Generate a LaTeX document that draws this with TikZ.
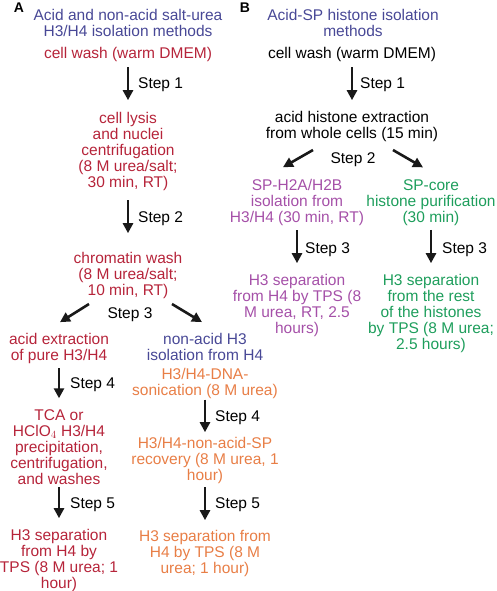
\documentclass[tikz,border=0pt]{standalone}
\usepackage{fontspec}
\setmainfont{Liberation Sans}
\usetikzlibrary{positioning,arrows.meta}
\definecolor{headblue}{RGB}{72,72,150}
\definecolor{acidred}{RGB}{182,36,58}
\definecolor{nonorange}{RGB}{232,126,70}
\definecolor{sppurple}{RGB}{165,80,168}
\definecolor{coregreen}{RGB}{30,158,92}
\begin{document}
\begin{tikzpicture}[x=1pt,y=-1pt,font=\fontsize{15.5}{16}\selectfont]
  \tikzset{
    txt/.style={inner sep=0pt,align=center},
    head/.style={txt,text=headblue},
    red/.style={txt,text=acidred},
    orange/.style={txt,text=nonorange},
    purple/.style={txt,text=sppurple},
    green/.style={txt,text=coregreen},
    panel/.style={inner sep=0pt,font=\fontsize{14}{14}\bfseries\selectfont},
    steplabel/.style={inner sep=0pt,anchor=base west},
    flow/.style={->,line width=2.6pt,draw=black!90},
    >={Triangle[length=10pt,width=10pt]}
  }
  \useasboundingbox (0,0) rectangle (496,591);
  % panel A
  \node[panel] (labA) at (19,8) {A};
  \node[head] (titleA) at (128,22.5) {Acid and non-acid salt-urea\\H3/H4 isolation methods};
  \node[red] (washA) at (128,54.6) {cell wash (warm DMEM)};
  \node[red] (lysis) at (128,151.6) {cell lysis\\and nuclei\\centrifugation\\(8 M urea/salt;\\30 min, RT)};
  \node[red] (chrom) at (128,275.6) {chromatin wash\\(8 M urea/salt;\\10 min, RT)};
  \node[red] (acidx) at (59,348.6) {acid extraction\\of pure H3/H4};
  \node[head] (nonacid) at (205,347) {non-acid H3\\isolation from H4};
  \node[orange] (sonic) at (205,383.1) {H3/H4-DNA-\\sonication (8 M urea)};
  \node[red] (tca) at (59,447) {TCA or\\HClO$_4$ H3/H4\\precipitation,\\centrifugation,\\and washes};
  \node[orange] (recov) at (205,460.6) {H3/H4-non-acid-SP\\recovery (8 M urea, 1\\hour)};
  \node[red] (sepA) at (59,560.6) {H3 separation\\from H4 by\\TPS (8 M urea; 1\\hour)};
  \node[orange] (sepN) at (205,553.6) {H3 separation from\\H4 by TPS (8 M\\urea; 1 hour)};
  \draw[flow,shorten <=5pt,shorten >=12pt] (washA.south) -- (lysis.north);
  \draw[flow,shorten <=9pt,shorten >=19pt] (lysis.south) -- (chrom.north);
  \draw[flow] ([xshift=-39pt,yshift=-5pt]chrom.south) -- ([xshift=1pt,yshift=11pt]acidx.north);
  \draw[flow] ([xshift=44pt,yshift=-5pt]chrom.south) -- ([xshift=-3pt,yshift=11pt]nonacid.north);
  \draw[flow,shorten <=4pt,shorten >=11pt] (acidx.south) -- (tca.north);
  \draw[flow,shorten <=1pt,shorten >=5pt] (sonic.south) -- (recov.north);
  \draw[flow,shorten <=2.5pt,shorten >=11pt] (tca.south) -- (sepA.north);
  \draw[flow,shorten <=3pt,shorten >=10pt] (recov.south) -- (sepN.north);
  \node[steplabel] (s1A) at (138,88.6) {Step 1};
  \node[steplabel] (s2A) at (138,222.6) {Step 2};
  \node[inner sep=0pt,anchor=base] (s3A) at (130,318.6) {Step 3};
  \node[steplabel] (s4A) at (70,388.6) {Step 4};
  \node[steplabel] (s4N) at (215,421.6) {Step 4};
  \node[steplabel] (s5A) at (70,508.6) {Step 5};
  \node[steplabel] (s5N) at (215,508.6) {Step 5};
  % panel B
  \node[panel] (labB) at (245,8) {B};
  \node[head] (titleB) at (353,22.5) {Acid-SP histone isolation\\methods};
  \node[txt] (washB) at (352,54.6) {cell wash (warm DMEM)};
  \node[txt] (acidB) at (352,126.6) {acid histone extraction\\from whole cells (15 min)};
  \node[purple] (sph) at (297,202.6) {SP-H2A/H2B\\isolation from\\H3/H4 (30 min, RT)};
  \node[green] (spcore) at (431,202.6) {SP-core\\histone purification\\(30 min)};
  \node[purple] (sepP) at (297,305.6) {H3 separation\\from H4 by TPS (8\\M urea, RT, 2.5\\hours)};
  \node[green] (sepG) at (431,313.6) {H3 separation\\from the rest\\of the histones\\by TPS (8 M urea;\\2.5 hours)};
  \draw[flow,shorten <=5pt,shorten >=11pt] (washB.south) -- (acidB.north);
  \draw[flow] ([xshift=-39pt,yshift=-8pt]acidB.south) -- ([xshift=-14pt,yshift=12pt]sph.north);
  \draw[flow] ([xshift=41pt,yshift=-8pt]acidB.south) -- ([xshift=-8pt,yshift=12pt]spcore.north);
  \draw[flow,shorten <=4pt,shorten >=11pt] (sph.south) -- (sepP.north);
  \draw[flow,shorten <=4pt,shorten >=11pt] (spcore.south) -- (sepG.north);
  \node[steplabel] (s1B) at (360,88.6) {Step 1};
  \node[inner sep=0pt,anchor=base] (s2B) at (353,163.6) {Step 2};
  \node[steplabel] (s3P) at (305,253.6) {Step 3};
  \node[steplabel] (s3G) at (442,253.6) {Step 3};
\end{tikzpicture}
\end{document}
